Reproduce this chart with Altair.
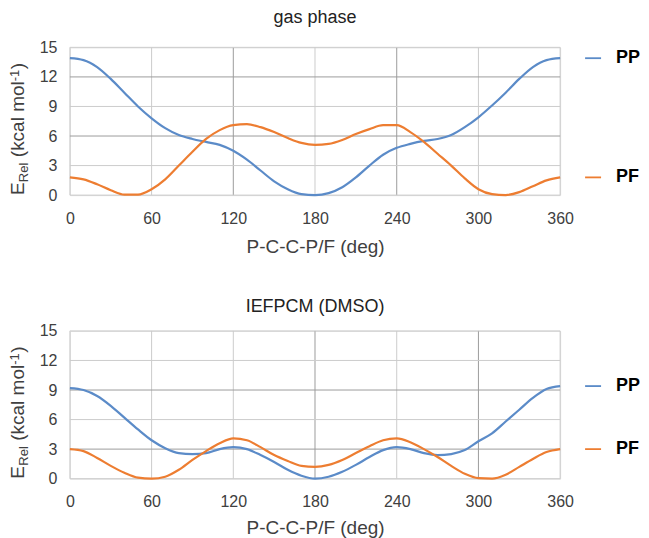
import altair as alt
import pandas as pd

FONT = "Liberation Sans"
TXT = "#404040"
BLUE = "#5b8bc8"
ORANGE = "#ed7d31"
GRID_LIGHT = "#cccccc"
GRID_DARK = "#9c9c9c"

angles = [0, 10, 20, 30, 40, 50, 60, 70, 80, 90, 100, 110, 120, 130, 140, 150, 160, 170, 180,
          190, 200, 210, 220, 230, 240, 250, 260, 270, 280, 290, 300, 310, 320, 330, 340, 350, 360]

gas_pp = [13.9, 13.7, 13.0, 11.8, 10.4, 9.0, 7.8, 6.8, 6.1, 5.7, 5.4, 5.1, 4.5, 3.6, 2.5, 1.4, 0.6, 0.1, 0.0,
          0.2, 0.8, 1.8, 3.0, 4.1, 4.8, 5.2, 5.5, 5.7, 6.1, 6.9, 7.9, 9.1, 10.4, 11.8, 13.0, 13.7, 13.9]
gas_pf = [1.8, 1.6, 1.1, 0.5, 0.05, 0.05, 0.6, 1.6, 3.0, 4.4, 5.7, 6.6, 7.1, 7.2, 6.9, 6.4, 5.8, 5.3, 5.1,
          5.2, 5.6, 6.2, 6.7, 7.1, 7.1, 6.4, 5.4, 4.2, 3.0, 1.7, 0.6, 0.1, 0.0, 0.3, 0.9, 1.5, 1.8]

dmso_pp = [9.2, 9.0, 8.4, 7.4, 6.2, 5.0, 3.9, 3.1, 2.6, 2.5, 2.6, 3.0, 3.2, 3.0, 2.4, 1.7, 0.9, 0.3, 0.0,
           0.2, 0.7, 1.4, 2.2, 2.9, 3.2, 3.0, 2.6, 2.4, 2.5, 2.9, 3.8, 4.6, 5.8, 7.0, 8.2, 9.1, 9.4]
dmso_pf = [3.0, 2.8, 2.1, 1.3, 0.6, 0.1, 0.0, 0.2, 0.9, 1.9, 2.8, 3.6, 4.1, 3.9, 3.2, 2.4, 1.8, 1.3, 1.2,
           1.4, 1.9, 2.6, 3.3, 3.9, 4.1, 3.7, 3.0, 2.2, 1.3, 0.5, 0.05, 0.0, 0.4, 1.2, 2.0, 2.7, 3.0]

series_names = ["PP", "PF"]
x_ticks = [0, 60, 120, 180, 240, 300, 360]
y_ticks = [0, 3, 6, 9, 12, 15]

W = 491
H = 148


def test_of(field, vals):
    return " || ".join(f"datum.{field} == {v}" for v in vals)


def ytitle(piece, x, y, size):
    return alt.Chart(pd.DataFrame({"k": [0]})).mark_text(
        text=piece, angle=270, align="left", baseline="alphabetic",
        fontSize=size, font=FONT, color=TXT
    ).encode(x=alt.value(x), y=alt.value(y))


def panel(title, pp, pf, dark_x, dark_y, title_offset, title_pad):
    df = pd.DataFrame({
        "angle": angles + angles,
        "E": pp + pf,
        "series": [series_names[0]] * len(angles) + [series_names[1]] * len(angles),
    })
    end = df[df["angle"] == angles[-1]]
    xscale = alt.Scale(domain=[0, 360], nice=False)
    yscale = alt.Scale(domain=[0, 15], nice=False)
    xaxis = alt.Axis(values=x_ticks, title="P-C-C-P/F (deg)", grid=False,
                     domain=False, ticks=False, labelFlush=False, labelOverlap=False,
                     labelFontSize=16, labelColor=TXT, labelFont=FONT, labelPadding=15,
                     titleFontSize=19, titleFontWeight="normal", titleColor=TXT,
                     titleFont=FONT, titlePadding=title_pad)
    yaxis = alt.Axis(values=y_ticks, title=None, grid=False,
                     domain=False, ticks=False, labelFlush=False, labelOverlap=False,
                     labelFontSize=16, labelColor=TXT, labelFont=FONT, labelPadding=13)
    cenc = alt.Color("series:N", scale=alt.Scale(domain=series_names, range=[BLUE, ORANGE]),
                     legend=None)

    vgrid = alt.Chart(pd.DataFrame({"gx": x_ticks})).mark_rule(strokeWidth=1).encode(
        x=alt.X("gx:Q", scale=xscale, axis=xaxis),
        color=alt.condition(test_of("gx", dark_x), alt.value(GRID_DARK), alt.value(GRID_LIGHT)))
    hgrid = alt.Chart(pd.DataFrame({"gy": y_ticks})).mark_rule(strokeWidth=1).encode(
        y=alt.Y("gy:Q", scale=yscale, axis=yaxis),
        color=alt.condition(test_of("gy", dark_y), alt.value(GRID_DARK), alt.value(GRID_LIGHT)))

    lines = alt.Chart(df).mark_line(interpolate="monotone", strokeWidth=2.2).encode(
        x=alt.X("angle:Q", scale=xscale, axis=xaxis),
        y=alt.Y("E:Q", scale=yscale, axis=yaxis), color=cenc)
    dash = alt.Chart(end).mark_point(shape="M-1,0L1,0", size=256, filled=False, strokeWidth=1.8,
                                     opacity=1, xOffset=33).encode(
        x=alt.X("angle:Q", axis=xaxis), y=alt.Y("E:Q", axis=yaxis), color=cenc)
    lab = alt.Chart(end).mark_text(align="left", baseline="middle", dx=56, fontSize=18,
                                   fontWeight="bold", font=FONT, color="black").encode(
        x=alt.X("angle:Q", axis=xaxis), y=alt.Y("E:Q", axis=yaxis), text="series:N")
    bx = -46
    pieces = [
        ytitle("E", bx, 148, 19),
        ytitle("Rel", bx + 4, 135, 13),
        ytitle("(kcal mol", bx, 110, 19),
        ytitle("-1", bx - 5, 34, 13),
        ytitle(")", bx, 22, 19),
    ]
    return alt.layer(vgrid, hgrid, lines, dash, lab, *pieces).properties(
        width=W, height=H,
        title=alt.TitleParams(title, fontSize=18, fontWeight="normal", font=FONT,
                              color="#222222", anchor="middle", offset=title_offset))


top = panel("gas phase", gas_pp, gas_pf, [120, 240], [12, 6], 12, 11)
bottom = panel("IEFPCM (DMSO)", dmso_pp, dmso_pf, [180, 300], [9, 3], 7, 9)

chart = alt.vconcat(top, bottom, spacing=40).properties(
    padding={"left": 0, "top": 0, "right": 0, "bottom": 0}
).configure_view(stroke=GRID_LIGHT).configure_axis(
    labelOverlap=False, labelFlush=False
).configure(background="white")

chart.save("out.html", embed_options={"renderer": "svg", "actions": False})
